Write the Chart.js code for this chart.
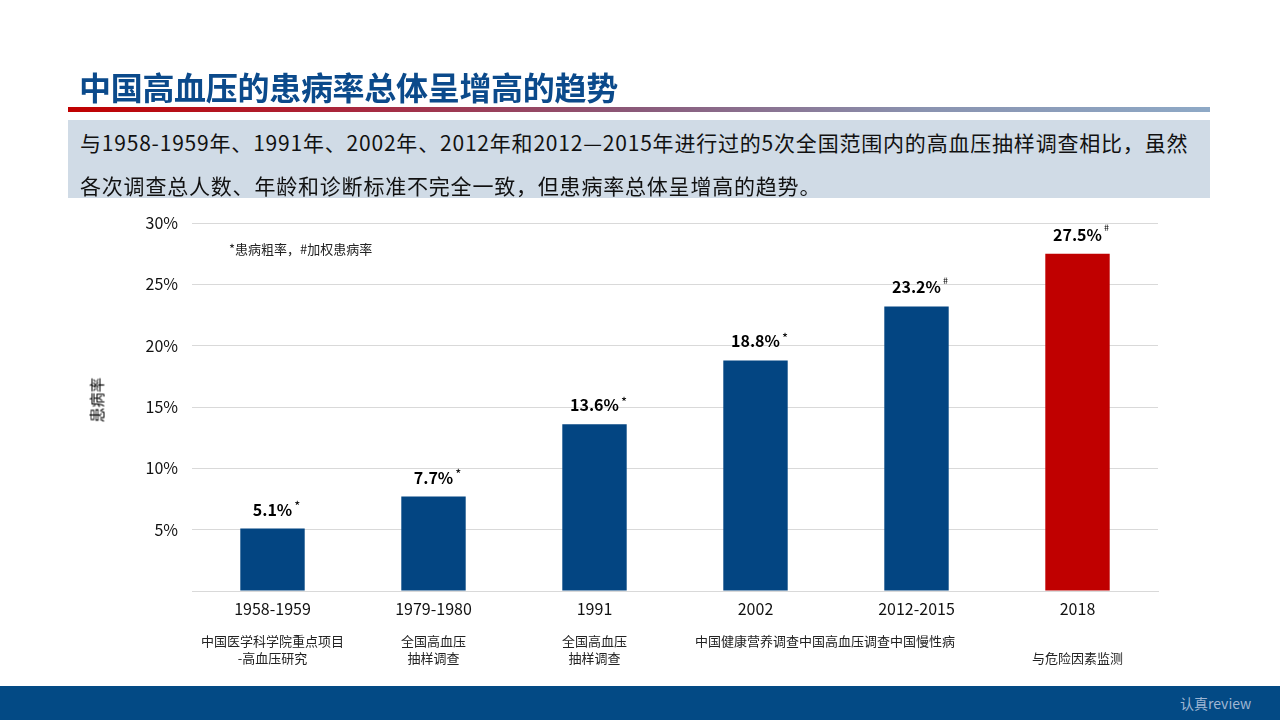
<!DOCTYPE html>
<html>
<head>
<meta charset="utf-8">
<script src="https://cdn.jsdelivr.net/npm/chart.js@4"></script>
<style>
  html, body { margin:0; padding:0; width:1280px; height:720px; background:#fff; overflow:hidden;
    font-family: "Noto Sans CJK SC", "Noto Sans", sans-serif; }
  #title { position:absolute; left:79px; top:63px; font-size:32px; font-weight:bold; color:#0b4a8b; letter-spacing:-0.3px; line-height:46px; }
  #rule { position:absolute; left:68px; top:107px; width:1142px; height:5px;
    background: linear-gradient(to right, #c00000 0%, #a8283e 25%, #8a5a7a 50%, #8a93b0 75%, #8ea9c6 100%); }
  #box { position:absolute; left:68px; top:120px; width:1142px; height:78px; background:#d0dbe6; }
  #box p { margin:0; position:absolute; left:12px; font-size:21px; letter-spacing:0.8px; color:#111; line-height:28px; white-space:nowrap; }
  #footer { position:absolute; left:0; top:686px; width:1280px; height:34px; background:#034a85; }
  #footer span { position:absolute; left:1180px; top:7px; font-size:14px; color:#9fb6d3; }
  #ytitle { position:absolute; left:84px; top:400px; width:24px; font-size:15px; color:#000; transform:rotate(-90deg); transform-origin:center; white-space:nowrap; }
  #wrap { position:absolute; left:0; top:0; width:1280px; height:720px; }
</style>
</head>
<body>
<div id="wrap"><canvas id="c"></canvas></div>
<div id="title">中国高血压的患病率总体呈增高的趋势</div>
<div id="rule"></div>
<div id="box">
  <p style="top:8px">与1958-1959年、1991年、2002年、2012年和2012—2015年进行过的5次全国范围内的高血压抽样调查相比，虽然</p>
  <p style="top:51px">各次调查总人数、年龄和诊断标准不完全一致，但患病率总体呈增高的趋势。</p>
</div>
<div id="ytitle">患病率</div>
<div id="footer"><span>认真review</span></div>
<script>
const categories = ["1958-1959", "1979-1980", "1991", "2002", "2012-2015", "2018"];
const prevalence = [5.1, 7.7, 13.6, 18.8, 23.2, 27.5];
const valueMarks = ["*", "*", "*", "*", "#", "#"];
const surveyLine1 = ["中国医学科学院重点项目", "全国高血压", "全国高血压", "", "", ""];
const surveyLine2 = ["-高血压研究", "抽样调查", "抽样调查", "", "", "与危险因素监测"];
const sharedSurveyLabel = "中国健康营养调查中国高血压调查中国慢性病";
const yTicks = [0, 5, 10, 15, 20, 25, 30];
const noteText = "*患病粗率，#加权患病率";
const barColors = ["#034582", "#034582", "#034582", "#034582", "#034582", "#c00000"];

const FONT = '"Noto Sans CJK SC", "Noto Sans", sans-serif';

const overlay = {
  id: 'overlay',
  afterDatasetsDraw(chart) {
    const ctx = chart.ctx;
    const meta = chart.getDatasetMeta(0);
    const x = chart.scales.x;
    ctx.save();
    // value labels
    meta.data.forEach((bar, i) => {
      const txt = prevalence[i].toFixed(1) + "%";
      ctx.font = 'bold 16px ' + FONT;
      ctx.fillStyle = '#000';
      ctx.textAlign = 'center';
      ctx.textBaseline = 'middle';
      const ty = bar.y - 19;
      ctx.fillText(txt, bar.x, ty);
      const w = ctx.measureText(txt).width;
      ctx.font = (valueMarks[i] === '#' ? '9px ' : '13px ') + FONT;
      ctx.textAlign = 'left';
      ctx.fillText(valueMarks[i], bar.x + w / 2 + 2, ty - (valueMarks[i] === '#' ? 7 : 3));
    });
    // survey labels
    ctx.font = '13px ' + FONT;
    ctx.fillStyle = '#222';
    ctx.textAlign = 'center';
    ctx.textBaseline = 'middle';
    categories.forEach((c, i) => {
      const px = x.getPixelForValue(i);
      if (surveyLine1[i]) ctx.fillText(surveyLine1[i], px, 641);
      if (surveyLine2[i]) ctx.fillText(surveyLine2[i], px, 658);
    });
    const mid = (x.getPixelForValue(3) + x.getPixelForValue(4)) / 2 - 11;
    ctx.fillText(sharedSurveyLabel, mid, 641);
    // note
    ctx.font = '13px ' + FONT;
    ctx.textAlign = 'left';
    ctx.fillStyle = '#222';
    ctx.fillText(noteText, 229, 249);
    ctx.restore();
  }
};

new Chart(document.getElementById('c'), {
  type: 'bar',
  data: {
    labels: categories,
    datasets: [{
      data: prevalence,
      backgroundColor: barColors,
      borderWidth: 0,
      barPercentage: 0.4,
      categoryPercentage: 1.0
    }]
  },
  options: {
    responsive: true,
    maintainAspectRatio: false,
    animation: false,
    layout: { padding: { left: 0, right: 122, top: 223, bottom: 89 } },
    plugins: { legend: { display: false }, tooltip: { enabled: false } },
    scales: {
      x: {
        grid: { display: false, drawTicks: false },
        border: { color: '#d9d9d9', width: 1 },
        ticks: { color: '#111', font: { size: 16, family: FONT }, padding: 8, maxRotation: 0 },
        afterFit(s) { s.height = 40; }
      },
      y: {
        min: 0, max: 30,
        afterBuildTicks(s) { s.ticks = yTicks.map(v => ({ value: v })); },
        grid: { color: '#d9d9d9', drawTicks: false },
        border: { display: false },
        ticks: {
          color: '#111', font: { size: 16, family: FONT }, padding: 14,
          callback: v => v === 0 ? '' : v + '%'
        },
        afterFit(s) { s.width = 192; }
      }
    }
  },
  plugins: [overlay]
});
</script>
</body>
</html>
